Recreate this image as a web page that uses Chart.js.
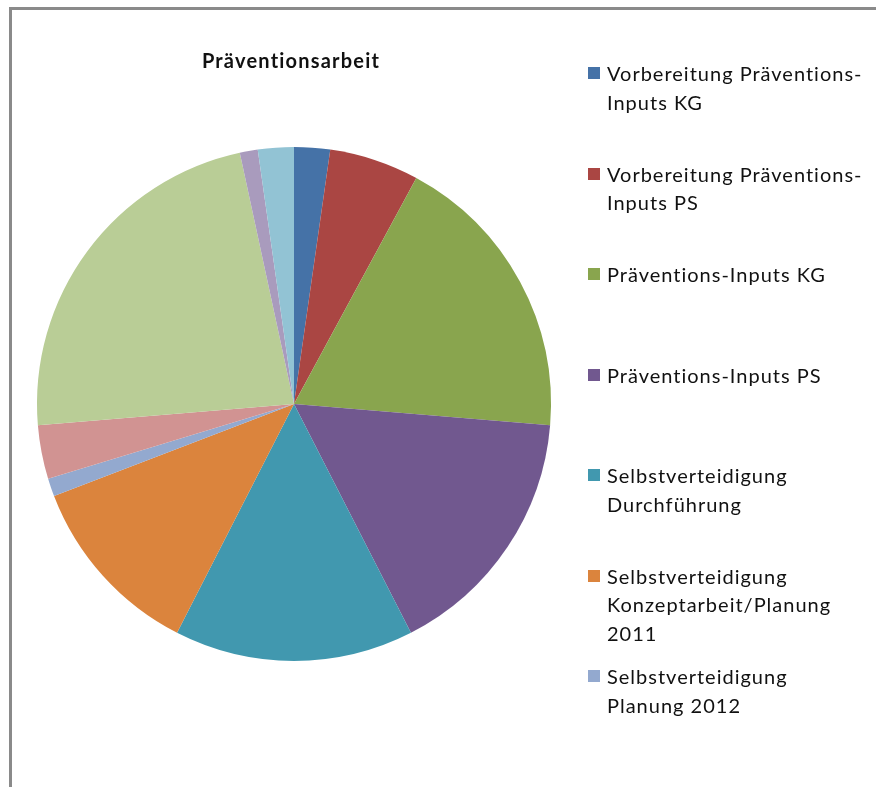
<!DOCTYPE html>
<html>
<head>
<meta charset="utf-8">
<script src="https://cdn.jsdelivr.net/npm/chart.js@4"></script>
<style>
  body { margin: 0; background: #fff; }
  #wrap { position: relative; width: 876px; height: 787px; overflow: hidden; }
  #pieChart { position: absolute; left: 0; top: 0; }
  #legend { position: absolute; left: 588px; top: 0; font-family: Lato, sans-serif; font-size: 20px; letter-spacing: 1px; color: #111; }
  .item { position: absolute; left: 0; width: 288px; }
  .box { position: absolute; left: 0; top: 8px; width: 12px; height: 12px; }
  .txt { position: absolute; left: 19px; width: 258px; line-height: 28.5px; }
</style>
</head>
<body>
<div id="wrap">
  <canvas id="pieChart" width="876" height="787"></canvas>
  <div id="legend"></div>
</div>
<script>
const chartTitle = 'Präventionsarbeit';

const labels = [
  'Vorbereitung Präventions-Inputs KG',
  'Vorbereitung Präventions-Inputs PS',
  'Präventions-Inputs KG',
  'Präventions-Inputs PS',
  'Selbstverteidigung Durchführung',
  'Selbstverteidigung Konzeptarbeit/Planung 2011',
  'Selbstverteidigung Planung 2012',
  'Kategorie 8',
  'Kategorie 9',
  'Kategorie 10',
  'Kategorie 11'
];

// hours per activity
const values = [6, 15, 49, 43, 40, 31, 3, 9, 61, 3, 6];

const colors = [
  '#4572A7', '#AA4643', '#89A54E', '#71588F', '#4198AF', '#DB843D',
  '#93A9CF', '#D19392', '#B9CD96', '#A99BBD', '#92C3D4'
];

// only the first 7 entries fit into the legend box
const legendCount = 7;

// frame + title
const framePlugin = {
  id: 'frame',
  afterDraw(chart) {
    const ctx = chart.ctx;
    ctx.save();
    ctx.fillStyle = '#8a8a8a';
    ctx.fillRect(9, 7, 867, 3);
    ctx.fillRect(9, 7, 3, 780);
    ctx.fillStyle = '#111';
    ctx.font = 'bold 20px Lato, sans-serif';
    ctx.letterSpacing = '1.2px';
    ctx.textAlign = 'center';
    ctx.textBaseline = 'middle';
    ctx.fillText(chartTitle, 291, 62);
    ctx.restore();
  }
};

const pieChart = new Chart(document.getElementById('pieChart').getContext('2d'), {
  type: 'pie',
  data: {
    labels: labels,
    datasets: [{
      data: values,
      backgroundColor: colors,
      borderWidth: 0
    }]
  },
  options: {
    responsive: false,
    animation: false,
    layout: {
      padding: { left: 37, right: 325, top: 147, bottom: 126 }
    },
    plugins: {
      legend: { display: false },
      title: { display: false },
      tooltip: { enabled: false }
    }
  },
  plugins: [framePlugin]
});

// legend on the right
const legendEl = document.getElementById('legend');
for (let i = 0; i < legendCount; i++) {
  const item = document.createElement('div');
  item.className = 'item';
  item.style.top = (59 + i * 100.5) + 'px';
  const box = document.createElement('div');
  box.className = 'box';
  box.style.background = colors[i];
  const txt = document.createElement('div');
  txt.className = 'txt';
  txt.textContent = labels[i];
  item.appendChild(box);
  item.appendChild(txt);
  legendEl.appendChild(item);
}
</script>
</body>
</html>
